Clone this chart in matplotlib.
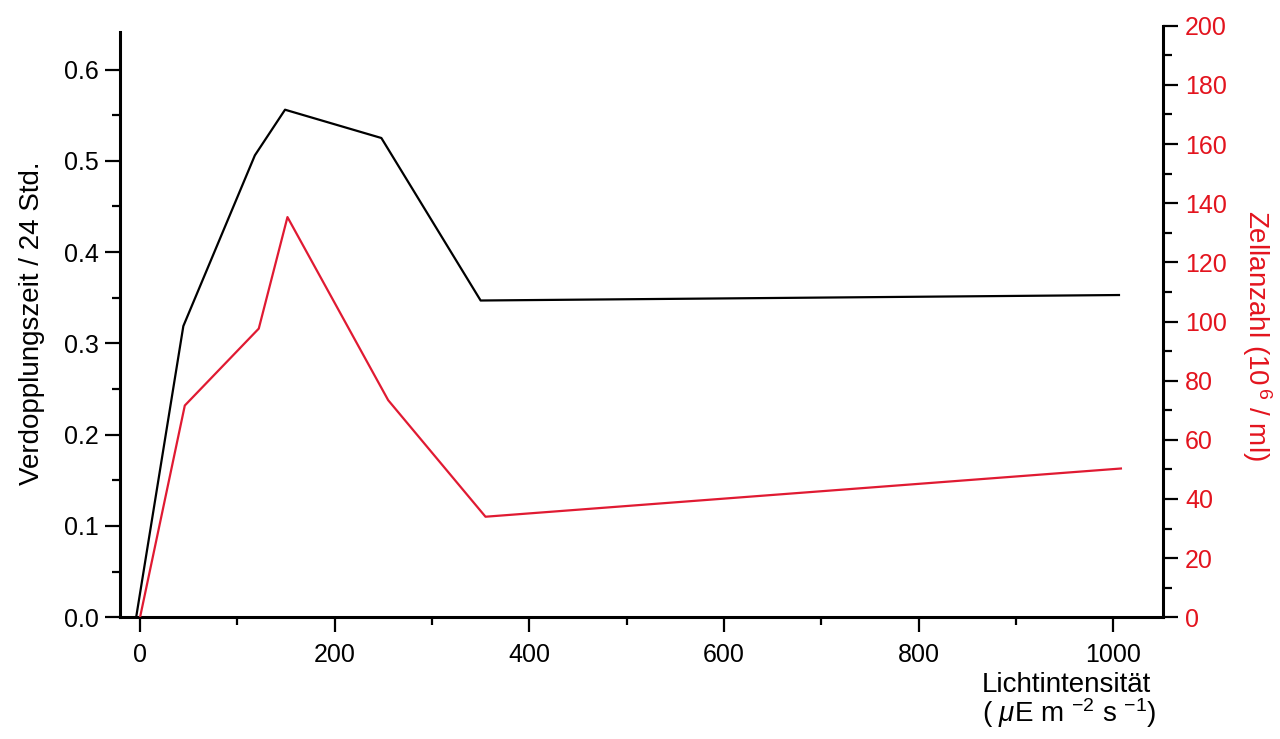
import matplotlib
matplotlib.use('Agg')
import matplotlib.pyplot as plt
from matplotlib.ticker import MultipleLocator

plt.rcParams['font.family'] = ['Liberation Sans', 'DejaVu Sans']
plt.rcParams['mathtext.fontset'] = 'custom'
plt.rcParams['mathtext.rm'] = 'Liberation Sans'
plt.rcParams['mathtext.it'] = 'Liberation Sans:italic'

# black: Verdopplungszeit (left axis)
licht_schwarz = [-4, 44.5, 118, 149, 248, 350, 1006]
verdopplung = [0.0, 0.319, 0.506, 0.556, 0.525, 0.347, 0.353]

# red: Zellanzahl (right axis)
licht_rot = [0, 46, 122, 151.5, 255, 355, 1008]
zellanzahl = [0.0, 71.6, 97.6, 135.3, 73.4, 34.0, 50.3]

x_ticks = [0, 200, 400, 600, 800, 1000]

rot = '#e01a32'
rot_text = '#e3141e'

fig = plt.figure(figsize=(12.8, 7.39), dpi=100)
ax = fig.add_axes([0.09375, 0.1647, 0.9084 - 0.09375, 0.9652 - 0.1647])
ax2 = ax.twinx()

ax.plot(licht_schwarz, verdopplung, color='black', lw=1.6)
ax2.plot(licht_rot, zellanzahl, color=rot, lw=1.6)

ax.set_xlim(-20.6, 1051)
ax.set_ylim(0, 0.648)
ax2.set_ylim(0, 200)

ax.set_xticks(x_ticks)
ax.xaxis.set_minor_locator(MultipleLocator(100))
ax.yaxis.set_major_locator(MultipleLocator(0.1))
ax.yaxis.set_minor_locator(MultipleLocator(0.05))
ax.yaxis.set_major_formatter(matplotlib.ticker.FormatStrFormatter('%.1f'))
ax2.yaxis.set_major_locator(MultipleLocator(20))
ax2.yaxis.set_minor_locator(MultipleLocator(10))

for s in ['top', 'right']:
	ax.spines[s].set_visible(False)
for s in ['top', 'left', 'bottom']:
	ax2.spines[s].set_visible(False)
ax.spines['left'].set_bounds(0, 0.641)
ax.spines['left'].set_linewidth(2.2)
ax.spines['bottom'].set_linewidth(2.2)
ax2.spines['right'].set_linewidth(2.2)

ax.tick_params(which='major', direction='out', length=10.5, width=1.6, labelsize=18, pad=5)
ax.tick_params(which='minor', direction='out', length=6, width=1.6)
ax.tick_params(axis='x', which='major', pad=8)
ax2.tick_params(which='major', direction='out', length=11, width=1.6, labelsize=18, pad=5, labelcolor=rot_text)
ax2.tick_params(which='minor', direction='out', length=6.5, width=1.6)

fig.text(32 / 1280, 0.563, 'Verdopplungszeit / 24 Std.', rotation=90,
	ha='center', va='center', fontsize=20)
fig.text(1257 / 1280, 0.5467, 'Zellanzahl (10$^{\\,6}$ / ml)', rotation=270,
	ha='center', va='center', fontsize=20, color=rot_text)

fig.text(982 / 1280, (739 - 692) / 739, 'Lichtintensität', ha='left', va='baseline', fontsize=20)
fig.text(982 / 1280, (739 - 722) / 739, '( $\\mathit{\\mu}$E m $^{-2}$ s $^{-1}$)',
	ha='left', va='baseline', fontsize=20)

fig.savefig('out.png', dpi=100)
